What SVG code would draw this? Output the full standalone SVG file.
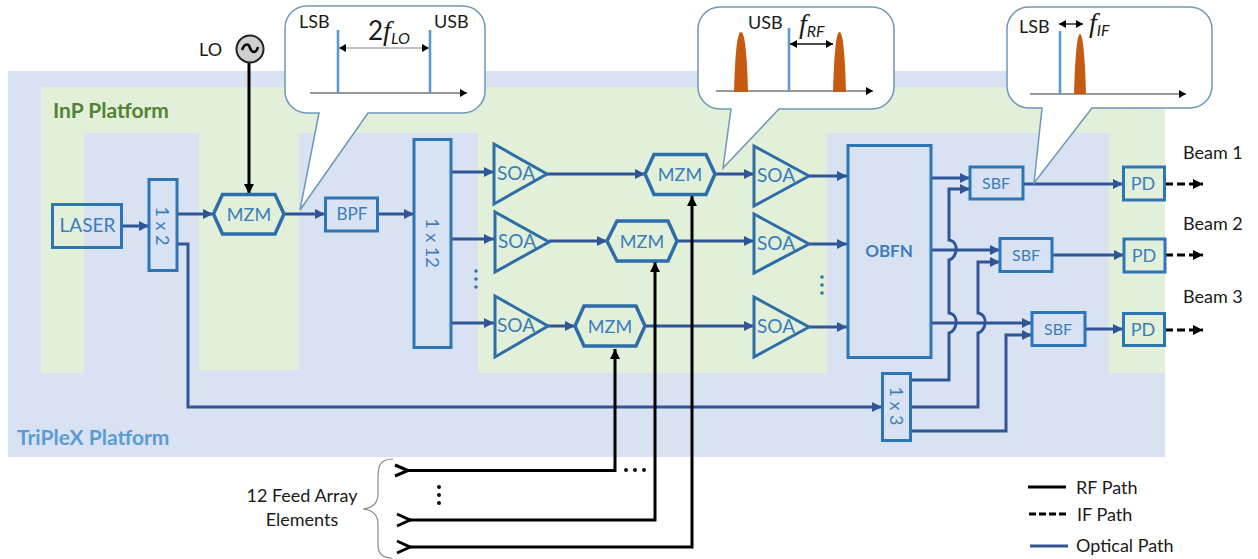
<svg xmlns="http://www.w3.org/2000/svg" width="1258" height="559" viewBox="0 0 1258 559">
<style>
text{font-family:Lato,"Liberation Sans",sans-serif;fill:#1a1a1a;font-size:18px}
.b{fill:none;stroke:#2E75B6;stroke-width:3}
.s{fill:none;stroke:#2F5597;stroke-width:3}
.t{fill:#3A7DBB;text-anchor:middle;font-size:18px}
.r{fill:#3A7DBB;text-anchor:middle;font-size:18px}
.k{fill:none;stroke:#000;stroke-width:3}
.d{fill:none;stroke:#000;stroke-width:3;stroke-dasharray:8 4}
.c{fill:#fff;stroke:#6E97B8;stroke-width:1.5}
.ax{fill:none;stroke:#777;stroke-width:1.3}
.ln{fill:none;stroke:#5B9BD5;stroke-width:2.6}
.pk{fill:#C55A11}
.i{font-family:"Liberation Serif",serif;font-style:italic}
</style>
<defs>
<marker id="ab" markerUnits="userSpaceOnUse" markerWidth="11" markerHeight="11" refX="10" refY="5" orient="auto"><path d="M0 0L10 5L0 10z" fill="#2F5597"/></marker>
<marker id="ak" markerUnits="userSpaceOnUse" markerWidth="11" markerHeight="11" refX="10" refY="5" orient="auto"><path d="M0 0L10 5L0 10z" fill="#000"/></marker>
<marker id="as" markerUnits="userSpaceOnUse" markerWidth="8" markerHeight="8" refX="7" refY="4" orient="auto-start-reverse"><path d="M0 0L7 4L0 8z" fill="#000"/></marker>
</defs>

<g id="platforms">
<rect x="8" y="71" width="1157" height="386" fill="#D9E2F3"/>
<path d="M41 87H1165V373H1109V133H827V373H478V133H299V370H199V133H84V373H41z" fill="#E2F0D9"/>
<text x="53" y="118" font-weight="700" style="fill:#548235;font-size:21px">InP Platform</text>
<text x="17" y="445" font-weight="700" style="fill:#5B9BD5;font-size:21px">TriPleX Platform</text>
</g>

<g id="connectors">
<path class="k" marker-end="url(#ak)" d="M249 62V194"/>
<path class="s" marker-end="url(#ab)" d="M122 226H149"/>
<path class="s" marker-end="url(#ab)" d="M177 214H213"/>
<path class="s" marker-end="url(#ab)" d="M177 244H188V407H882"/>
<path class="s" marker-end="url(#ab)" d="M284 214H325"/>
<path class="s" marker-end="url(#ab)" d="M378 214H414"/>
<path class="s" marker-end="url(#ab)" d="M451 172H494"/>
<path class="s" marker-end="url(#ab)" d="M451 239H494"/>
<path class="s" marker-end="url(#ab)" d="M451 323H494"/>
<path class="s" marker-end="url(#ab)" d="M547 174H645"/>
<path class="s" marker-end="url(#ab)" d="M715 174H754"/>
<path class="s" marker-end="url(#ab)" d="M809 176H847"/>
<path class="s" marker-end="url(#ab)" d="M549 241H607"/>
<path class="s" marker-end="url(#ab)" d="M677 241H754"/>
<path class="s" marker-end="url(#ab)" d="M809 244H847"/>
<path class="s" marker-end="url(#ab)" d="M548 326H575"/>
<path class="s" marker-end="url(#ab)" d="M645 326H754"/>
<path class="s" marker-end="url(#ab)" d="M809 327H847"/>
<path class="s" marker-end="url(#ab)" d="M931 178H970"/>
<path class="s" marker-end="url(#ab)" d="M931 250H1000"/>
<path class="s" marker-end="url(#ab)" d="M931 323H1032"/>
<path class="s" marker-end="url(#ab)" d="M910 380H949V333C957 331 960 315 949 313V260C957 258 960 242 949 240V189H970"/>
<path class="s" marker-end="url(#ab)" d="M910 407H978V333C986 331 989 315 978 313V262H1000"/>
<path class="s" marker-end="url(#ab)" d="M910 431H1006V335H1032"/>
<path class="s" marker-end="url(#ab)" d="M1023 184H1123"/>
<path class="s" marker-end="url(#ab)" d="M1052 255H1124"/>
<path class="s" marker-end="url(#ab)" d="M1085 329H1123"/>
<path class="d" marker-end="url(#ak)" d="M1165 184H1203"/>
<path class="d" marker-end="url(#ak)" d="M1165 255H1203"/>
<path class="d" marker-end="url(#ak)" d="M1165 330H1203"/>
<path class="k" marker-end="url(#ak)" d="M405 470.500H615V349"/>
<path class="k" marker-end="url(#ak)" d="M408 520H655V262"/>
<path class="k" marker-end="url(#ak)" d="M408 547H692V196"/>
</g>

<g id="laser"><rect class="b" x="52.500" y="204.500" width="69" height="43"/><text class="t" x="87.500" y="232" style="font-size:19px">LASER</text></g>
<g id="split-1x2"><rect class="b" x="149" y="179.500" width="28" height="91"/><text class="r" transform="translate(156,226) rotate(90)">1 x 2</text></g>
<g id="mzm-lo"><path class="s" style="stroke:#2F6DA8;stroke-width:3.500" d="M213.500 214L222.500 194.500H275L284 214L275 234H222.500z"/><text class="t" x="249" y="221">MZM</text></g>
<g id="bpf"><rect class="b" x="325.500" y="198" width="52" height="33"/><text class="t" x="352" y="220" style="font-size:17px">BPF</text></g>
<g id="split-1x12"><rect class="b" x="414" y="139.500" width="37" height="208"/><text class="r" transform="translate(426,243) rotate(90)">1 x 12</text></g>

<g id="soa-a1"><path class="s" style="stroke:#2F6DA8" d="M494 144V204L547 174z"/><text class="t" x="516" y="180" style="font-size:19px">SOA</text></g>
<g id="soa-a2"><path class="s" style="stroke:#2F6DA8" d="M495 212V272L549 242z"/><text class="t" x="517" y="248" style="font-size:19px">SOA</text></g>
<g id="soa-a3"><path class="s" style="stroke:#2F6DA8" d="M495 296V357L548 326z"/><text class="t" x="516" y="332" style="font-size:19px">SOA</text></g>
<g id="mzm-1"><path class="s" style="stroke:#2F6DA8;stroke-width:3.500" d="M645 174L654 154.500H706L715 174L706 194.500H654z"/><text class="t" x="680" y="181">MZM</text></g>
<g id="mzm-2"><path class="s" style="stroke:#2F6DA8;stroke-width:3.500" d="M607 241L617 221H668L677 241L668 261H617z"/><text class="t" x="642" y="248">MZM</text></g>
<g id="mzm-3"><path class="s" style="stroke:#2F6DA8;stroke-width:3.500" d="M575 326L584 306H636L645 326L636 346H584z"/><text class="t" x="610" y="333">MZM</text></g>
<g id="soa-b1"><path class="s" style="stroke:#2F6DA8" d="M754 146V206L809 176z"/><text class="t" x="776" y="182" style="font-size:19px">SOA</text></g>
<g id="soa-b2"><path class="s" style="stroke:#2F6DA8" d="M754 214V273L809 244z"/><text class="t" x="776" y="250" style="font-size:19px">SOA</text></g>
<g id="soa-b3"><path class="s" style="stroke:#2F6DA8" d="M754 297V357L809 327z"/><text class="t" x="776" y="333" style="font-size:19px">SOA</text></g>
<g id="obfn"><rect class="b" x="848" y="145.500" width="83" height="212"/><text class="t" x="889" y="257" font-weight="700" style="font-size:17px">OBFN</text></g>
<g id="sbf-1"><rect class="b" x="970" y="167" width="53" height="32"/><text class="t" x="996" y="189" style="font-size:16px">SBF</text></g>
<g id="sbf-2"><rect class="b" x="1000" y="238.500" width="52" height="33"/><text class="t" x="1026" y="261" style="font-size:16px">SBF</text></g>
<g id="sbf-3"><rect class="b" x="1032" y="312.500" width="53" height="33"/><text class="t" x="1058" y="335" style="font-size:16px">SBF</text></g>
<g id="pd-1"><rect class="b" x="1123.500" y="167" width="41" height="33"/><text class="t" x="1143" y="190">PD</text></g>
<g id="pd-2"><rect class="b" x="1124" y="239" width="41" height="33"/><text class="t" x="1144" y="262">PD</text></g>
<g id="pd-3"><rect class="b" x="1123.500" y="313.500" width="41" height="32"/><text class="t" x="1143" y="336">PD</text></g>
<g id="split-1x3"><rect class="b" x="882.500" y="373.500" width="28" height="67"/><text class="r" transform="translate(890,406) rotate(90)">1 x 3</text></g>

<g id="lo"><circle cx="250" cy="49" r="13.500" fill="#D0D0D0" stroke="#222" stroke-width="2"/><path d="M242 50C245 42 249 44 250 48C252 53 256 54 258 47" fill="none" stroke="#000" stroke-width="2.500"/><text x="199" y="56">LO</text></g>

<g id="callout-lo">
<path class="c" d="M308 6H463A22 22 0 0 1 485 28V91A22 22 0 0 1 463 113H368L300 210L319 113H307A22 22 0 0 1 285 91V28A22 22 0 0 1 308 6z"/>
<path class="ax" marker-end="url(#as)" d="M310 93H467"/>
<path class="ln" d="M338 30V93M430 30V93"/>
<path fill="none" stroke="#888" stroke-width="1.200" marker-start="url(#as)" marker-end="url(#as)" d="M339 48H429"/>
<text x="299" y="28">LSB</text><text x="434" y="28">USB</text>
<text x="368" y="40" style="font-size:26px">2<tspan class="i" style="font-size:28px">f</tspan><tspan style="font-size:16px;font-style:italic" dy="4">LO</tspan></text>
</g>
<g id="callout-rf">
<path class="c" d="M720 7H872A22 22 0 0 1 894 29V87A22 22 0 0 1 872 109H779L723 168L731 109H720A22 22 0 0 1 698 87V29A22 22 0 0 1 720 7z"/>
<path class="ax" marker-end="url(#as)" d="M716 91H873"/>
<path class="pk" d="M734 92C735 55 737 32 741 32C745 32 747 55 748 92z"/>
<path class="pk" d="M833 92C834 55 836 32 839.500 32C843 32 845 55 846 92z"/>
<path class="ln" d="M789 28V91"/>
<path fill="none" stroke="#111" stroke-width="1.300" marker-start="url(#as)" marker-end="url(#as)" d="M790 44H833"/>
<text x="748" y="29">USB</text>
<text x="799" y="33" class="i" style="font-size:28px">f<tspan style="font-size:16px;font-family:Lato" dy="4">RF</tspan></text>
</g>
<g id="callout-if">
<path class="c" d="M1029 7H1190A22 22 0 0 1 1212 29V86A22 22 0 0 1 1190 108H1092L1034 183L1042 108H1029A22 22 0 0 1 1007 86V29A22 22 0 0 1 1029 7z"/>
<path class="ax" marker-end="url(#as)" d="M1030 94H1186"/>
<path class="pk" d="M1074 94C1075 58 1077 34 1080 34C1083 34 1085 58 1086 94z"/>
<path class="ln" d="M1060 31V94"/>
<path fill="none" stroke="#111" stroke-width="1.300" marker-start="url(#as)" marker-end="url(#as)" d="M1059 24H1083"/>
<text x="1019" y="33">LSB</text>
<text x="1089" y="32" class="i" style="font-size:28px">f<tspan style="font-size:16px;font-family:Lato" dy="4">IF</tspan></text>
</g>

<g id="dots" fill="#2E75B6">
<circle cx="476" cy="271" r="1.800"/><circle cx="476" cy="279" r="1.800"/><circle cx="476" cy="287" r="1.800"/>
<circle cx="822" cy="277" r="1.800"/><circle cx="822" cy="285" r="1.800"/><circle cx="822" cy="293" r="1.800"/>
<g fill="#111"><circle cx="626" cy="470" r="2"/><circle cx="635" cy="470" r="2"/><circle cx="644" cy="470" r="2"/>
<circle cx="439" cy="487" r="2"/><circle cx="439" cy="495" r="2"/><circle cx="439" cy="503" r="2"/></g>
</g>

<g id="feeds">
<path class="k" d="M395 465L408 470.500L395 476"/>
<path class="k" d="M397 514L410 520L397 526"/>
<path class="k" d="M397 541L410 547L397 553"/>
<path d="M393 459C378 459 378 468 378 480V494C378 503 372 508 363 509C372 510 378 515 378 524V545C378 553 382 558 392 558" fill="none" stroke="#8a8a8a" stroke-width="1.200"/>
<text x="302" y="502" text-anchor="middle">12 Feed Array</text>
<text x="302" y="526" text-anchor="middle">Elements</text>
</g>

<g id="beams"><text x="1183" y="159">Beam 1</text><text x="1183" y="230">Beam 2</text><text x="1183" y="303">Beam 3</text></g>

<g id="legend">
<path d="M1028 487H1066" class="k"/><text x="1076" y="494">RF Path</text>
<path d="M1029 514H1068" class="d" style="stroke-dasharray:7 3"/><text x="1077" y="521">IF Path</text>
<path d="M1030 546H1068" class="s"/><text x="1076" y="552">Optical Path</text>
</g>
</svg>
